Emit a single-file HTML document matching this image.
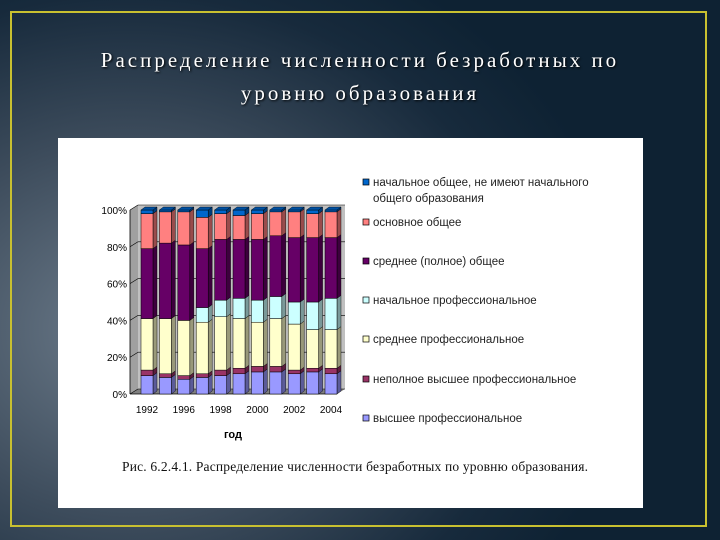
<!DOCTYPE html>
<html><head><meta charset="utf-8">
<style>
html,body{margin:0;padding:0}
body{width:720px;height:540px;overflow:hidden;position:relative;
background:radial-gradient(ellipse 500px 420px at 130px 330px,#6d7c8b 0%,#3d4c5c 45%,#172a3c 80%,#0e2233 100%);
font-family:"Liberation Sans",sans-serif}
#frame{position:absolute;left:10px;top:11px;width:697px;height:516px;border:2px solid #c8c030;box-sizing:border-box}
#title{position:absolute;left:0;top:44px;width:720px;text-align:center;color:#fff;
font-family:"Liberation Serif",serif;font-size:21px;line-height:33px;letter-spacing:3px;text-shadow:1px 1px 2px #000}
#panel{position:absolute;left:58px;top:138px;width:585px;height:370px;background:#fff}
svg{position:absolute;left:0;top:0}
</style></head><body>
<div id="frame"></div>
<div id="title">Распределение численности безработных по<br>уровню образования</div>
<div id="panel"></div>
<svg id="chart" width="720" height="540"></svg>
<script>
const categories=["1992","1994","1996","1997","1998","1999","2000","2001","2002","2003","2004"];
const tickLabels=["1992","","1996","","1998","","2000","","2002","","2004"];
const seriesNames=["высшее профессиональное","неполное высшее профессиональное","среднее профессиональное","начальное профессиональное","среднее (полное) общее","основное общее","начальное общее, не имеют начального общего образования"];
const higher=[10,9,8,9,10,11,12,12,11,12,11];
const incompleteHigher=[3,2,2,2,3,3,3,3,2,2,3];
const secondaryProf=[28,30,30,28,29,27,24,26,25,21,21];
const primaryProf=[0,0,0,8,9,11,12,12,12,15,17];
const secondaryGeneral=[38,41,41,32,33,32,33,33,35,35,33];
const basicGeneral=[19,17,18,17,14,13,14,13,14,13,14];
const primaryGeneral=[2,1,1,4,2,3,2,1,1,2,1];
const series=[higher,incompleteHigher,secondaryProf,primaryProf,secondaryGeneral,basicGeneral,primaryGeneral];
const colors=["#9999ff","#993366","#ffffcc","#ccffff","#660066","#ff8080","#0066cc"];
const yTicks=[0,20,40,60,80,100];
const NS="http://www.w3.org/2000/svg";
const svg=document.getElementById('chart');
function el(t,a,p){const e=document.createElementNS(NS,t);for(const k in a)e.setAttribute(k,a[k]);(p||svg).appendChild(e);return e;}
const y0=394,y1=210,x0=130,x1=345,dx=8,dy=5;
const ys=v=>y0-(v/100)*(y0-y1);
const xs=i=>147+i*18.4;
const bw=12;
// walls
let w=el('polygon',{points:`${x0},${y0} ${x0+dx},${y0-dy} ${x0+dx},${y1-dy} ${x0},${y1}`,fill:'#a0a0a0'});

w=el('rect',{x:x0+dx,y:y1-dy,width:x1-x0-dx,height:y0-y1,fill:'#c0c0c0'});

w=el('polygon',{points:`${x0},${y0} ${x0+dx},${y0-dy} ${x1},${y0-dy} ${x1-dx},${y0}`,fill:'#808080'});

yTicks.forEach(t=>{
 const g=el('line',{x1:x0,y1:ys(t),x2:x0+dx,y2:ys(t)-dy,stroke:'#000','stroke-width':0.6});
 
 const h=el('line',{x1:x0+dx,y1:ys(t)-dy,x2:x1,y2:ys(t)-dy,stroke:'#000','stroke-width':0.6});
 
 const tx=el('text',{x:x0-3,y:ys(t)+4,'text-anchor':'end','font-size':10,fill:'#000'});
 tx.textContent=t+'%';
 
});
let ax=el('line',{x1:x0,y1:y0,x2:x0,y2:y1,stroke:'#000','stroke-width':0.8});

ax=el('line',{x1:x0,y1:y0,x2:x1-dx,y2:y0,stroke:'#000','stroke-width':0.8});

function shade(c,f){const n=parseInt(c.slice(1),16);let r=(n>>16)&255,g=(n>>8)&255,b=n&255;return `rgb(${r*f|0},${g*f|0},${b*f|0})`;}
categories.forEach((c,i)=>{
 let cum=0;const x=xs(i)-bw/2;
 series.forEach((s,k)=>{
  const v=s[i];if(v<=0){return;}
  const ya=ys(cum+v),yb=ys(cum);cum+=v;
  const side=el('polygon',{points:`${x+bw},${yb} ${x+bw+4},${yb-3} ${x+bw+4},${ya-3} ${x+bw},${ya}`,fill:shade(colors[k],0.6),stroke:'#000','stroke-width':0.4});
  
  const r=el('rect',{x:x,y:ya,width:bw,height:yb-ya,fill:colors[k],stroke:'#000','stroke-width':0.5});
  
 });
 const top=el('polygon',{points:`${x},${ys(cum)} ${x+4},${ys(cum)-3} ${x+bw+4},${ys(cum)-3} ${x+bw},${ys(cum)}`,fill:shade(colors[6],0.8),stroke:'#000','stroke-width':0.4});
 
 if(tickLabels[i]){const t=el('text',{x:xs(i),y:413,'text-anchor':'middle','font-size':10,fill:'#000'});t.textContent=tickLabels[i];
 }
});
let xt=el('text',{x:233,y:438,'text-anchor':'middle','font-size':11,'font-weight':'bold',fill:'#000'});xt.textContent='год';

// legend
const legY=[185,225,264,303,342,382,421];
for(let k=6;k>=0;k--){
 const yy=legY[6-k];
 const b=el('rect',{x:363,y:yy-6,width:6,height:6,fill:colors[k],stroke:'#000','stroke-width':0.7});
 
 const name=seriesNames[k];
 const t=el('text',{x:373,y:yy+1,'font-size':11.5,fill:'#222'});
 if(k===6){t.textContent='начальное общее, не имеют начального';
  const t2=el('text',{x:373,y:yy+17,'font-size':11.5,fill:'#222'});t2.textContent='общего образования';
  }
 else t.textContent=name;
 
}
const cap=el('text',{x:122,y:471,'font-size':13.5,'font-family':'Liberation Serif, serif',fill:'#111',textLength:466});
cap.textContent='Рис. 6.2.4.1. Распределение численности безработных по уровню образования.';

</script>
</body></html>
